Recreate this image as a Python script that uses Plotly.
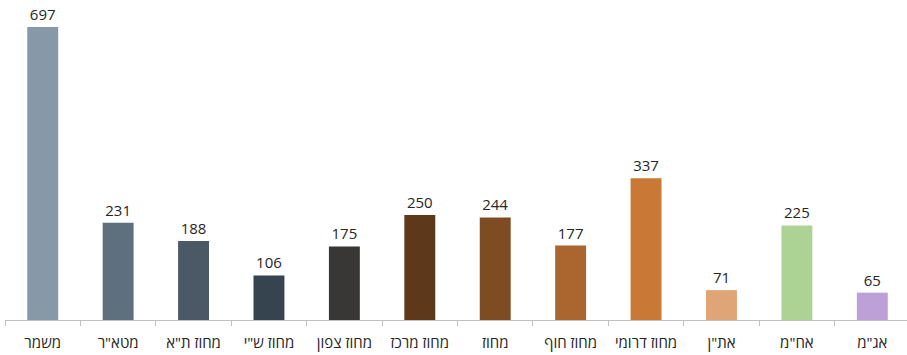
import plotly.graph_objects as go

categories = ['משמר', 'מטא"ר', 'מחוז ת"א', 'מחוז ש"י', 'מחוז צפון', 'מחוז מרכז',
              'מחוז', 'מחוז חוף', 'מחוז דרומי', 'את"ן', 'אח"מ', 'אג"מ']
values = [697, 231, 188, 106, 175, 250, 244, 177, 337, 71, 225, 65]
colors = ['#8799A7', '#5E6F7D', '#4B5966', '#36444F', '#393735', '#5E381B',
          '#7E4C22', '#AB6630', '#C97835', '#DFA577', '#ADD394', '#BCA0D7']

FONT = 'Open Sans, Liberation Sans, sans-serif'

fig = go.Figure(go.Bar(
    x=categories, y=values, marker=dict(color=colors, line=dict(width=0)),
    text=[str(v) for v in values], textposition='outside', cliponaxis=False,
    textfont=dict(size=15, color='#262626', family=FONT),
))

fig.update_layout(
    width=907, height=355,
    margin=dict(l=5, r=0, t=0, b=35),
    plot_bgcolor='white', paper_bgcolor='white',
    bargap=0.59, showlegend=False,
    font=dict(family=FONT, color='#262626'),
)
fig.update_xaxes(
    range=[-0.5, 11.46],
    showline=True, linecolor='#BFBFBF', linewidth=1,
    ticks='outside', tickson='boundaries', ticklen=5, tickcolor='#BFBFBF',
    tickfont=dict(size=15, color='#262626', family=FONT),
    ticklabelstandoff=9,
    tickangle=0, automargin=False, showgrid=False,
)
fig.update_yaxes(range=[0, 761], visible=False, showgrid=False, automargin=False)

fig.write_html('out.html', config={'displayModeBar': False},
               post_script="document.body.style.margin='0';document.body.style.padding='0';")
